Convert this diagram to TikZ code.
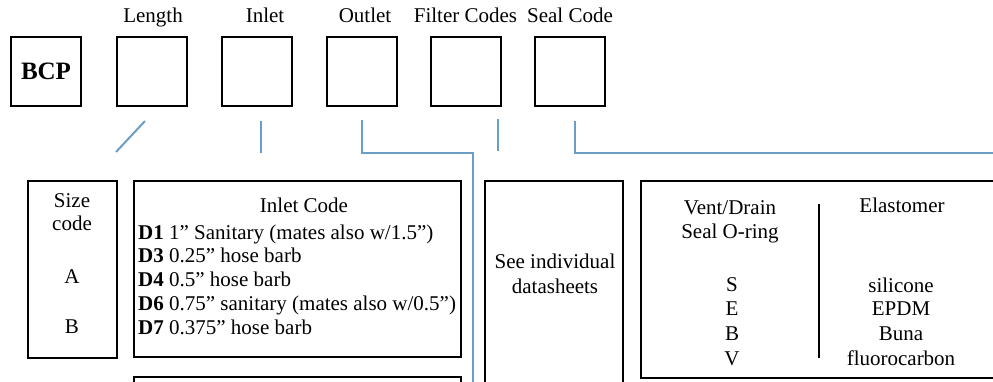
\documentclass[tikz,border=0pt]{standalone}
\usepackage{fontspec}
\setmainfont{Liberation Serif}
\definecolor{linkblue}{RGB}{107,158,199}
\begin{document}
\begin{tikzpicture}[x=1pt,y=-1pt,
  topbox/.style={draw=black, line width=2pt, minimum width=70pt, minimum height=69pt, inner sep=0pt},
  panel/.style={draw=black, line width=2pt, inner sep=0pt},
  lbl/.style={anchor=base, inner sep=0pt, font=\fontsize{21}{24}\selectfont},
  lblw/.style={anchor=base west, inner sep=0pt, font=\fontsize{21}{24}\selectfont},
  link/.style={draw=linkblue, line width=2pt, line join=miter}
]
\useasboundingbox (0,0) rectangle (993,381);
\clip (0,0) rectangle (993,381);

% top code boxes
\node[topbox, font=\fontsize{25}{28}\selectfont\bfseries] (bcp) at (46,71.5) {BCP};
\node[topbox] (lenbox) at (152,71.5) {};
\node[topbox] (inbox) at (257,71.5) {};
\node[topbox] (outbox) at (362,71.5) {};
\node[topbox] (filbox) at (466,71.5) {};
\node[topbox] (sealbox) at (570,71.5) {};

% top labels
\node[lbl] (lenlbl) at (153,22) {Length};
\node[lbl] (inlbl) at (265,22) {Inlet};
\node[lbl] (outlbl) at (365,22) {Outlet};
\node[lbl] (fillbl) at (465.5,22) {Filter Codes};
\node[lbl] (seallbl) at (570,22) {Seal Code};

% bottom panels
\node[panel, minimum width=89pt, minimum height=177pt] (sizepanel) at (72.5,269.5) {};
\node[panel, minimum width=327pt, minimum height=176pt] (inpanel) at (297.5,269) {};
\node[panel, minimum width=327pt, minimum height=63pt] (lowpanel) at (297.5,408.5) {};
\node[panel, minimum width=138pt, minimum height=259pt] (seepanel) at (554,310.5) {};
\node[panel, minimum width=369pt, minimum height=197pt] (sealpanel) at (825.5,279.5) {};

% divider in seal panel
\coordinate (divtop) at (819,204);
\coordinate (divbot) at (819,358);
\draw[line width=2pt] (divtop) -- (divbot);

% size panel text
\node[lbl] (t-size) at (72,207) {Size};
\node[lbl] (t-code) at (72,230) {code};
\node[lbl] (t-a) at (72,283) {A};
\node[lbl] (t-b) at (72,333) {B};

% inlet panel text
\node[lbl] (t-inlet) at (304,212) {Inlet Code};
\node[lblw] (t-d1) at (138,239) {\textbf{D1} 1” Sanitary (mates also w/1.5”)};
\node[lblw] (t-d3) at (138,262.5) {\textbf{D3} 0.25” hose barb};
\node[lblw] (t-d4) at (138,286.5) {\textbf{D4} 0.5” hose barb};
\node[lblw] (t-d6) at (138,310) {\textbf{D6} 0.75” sanitary (mates also w/0.5”)};
\node[lblw] (t-d7) at (138,334) {\textbf{D7} 0.375” hose barb};

% see panel text
\node[lbl] (t-see1) at (555,268) {See individual};
\node[lbl] (t-see2) at (555,293) {datasheets};

% seal panel text
\node[lbl] (t-vent) at (730,214) {Vent/Drain};
\node[lbl] (t-oring) at (730,238) {Seal O-ring};
\node[lbl] (t-s) at (732,291) {S};
\node[lbl] (t-e) at (732,315.5) {E};
\node[lbl] (t-bb) at (732,340) {B};
\node[lbl] (t-v) at (732,365) {V};
\node[lbl] (t-elast) at (902,212) {Elastomer};
\node[lbl] (t-sil) at (901,292) {silicone};
\node[lbl] (t-epdm) at (901,315.5) {EPDM};
\node[lbl] (t-buna) at (901,340) {Buna};
\node[lbl] (t-fluo) at (901,365) {fluorocarbon};

% connector coordinates
\coordinate (len1) at (145,121);
\coordinate (len2) at (116,152);
\coordinate (in1) at (261,121);
\coordinate (in2) at (261,153);
\coordinate (out1) at (362,120);
\coordinate (out2) at (362,153);
\coordinate (out3) at (473,153);
\coordinate (out4) at (473,395);
\coordinate (fil1) at (498,119);
\coordinate (fil2) at (498,151);
\coordinate (seal1) at (575,121);
\coordinate (seal2) at (575,153);
\coordinate (seal3) at (1005,153);

\draw[link] (len1) -- (len2);
\draw[link] (in1) -- (in2);
\draw[link] (out1) -- (out2) -- (out3) -- (out4);
\draw[link] (fil1) -- (fil2);
\draw[link] (seal1) -- (seal2) -- (seal3);
\end{tikzpicture}
\end{document}
